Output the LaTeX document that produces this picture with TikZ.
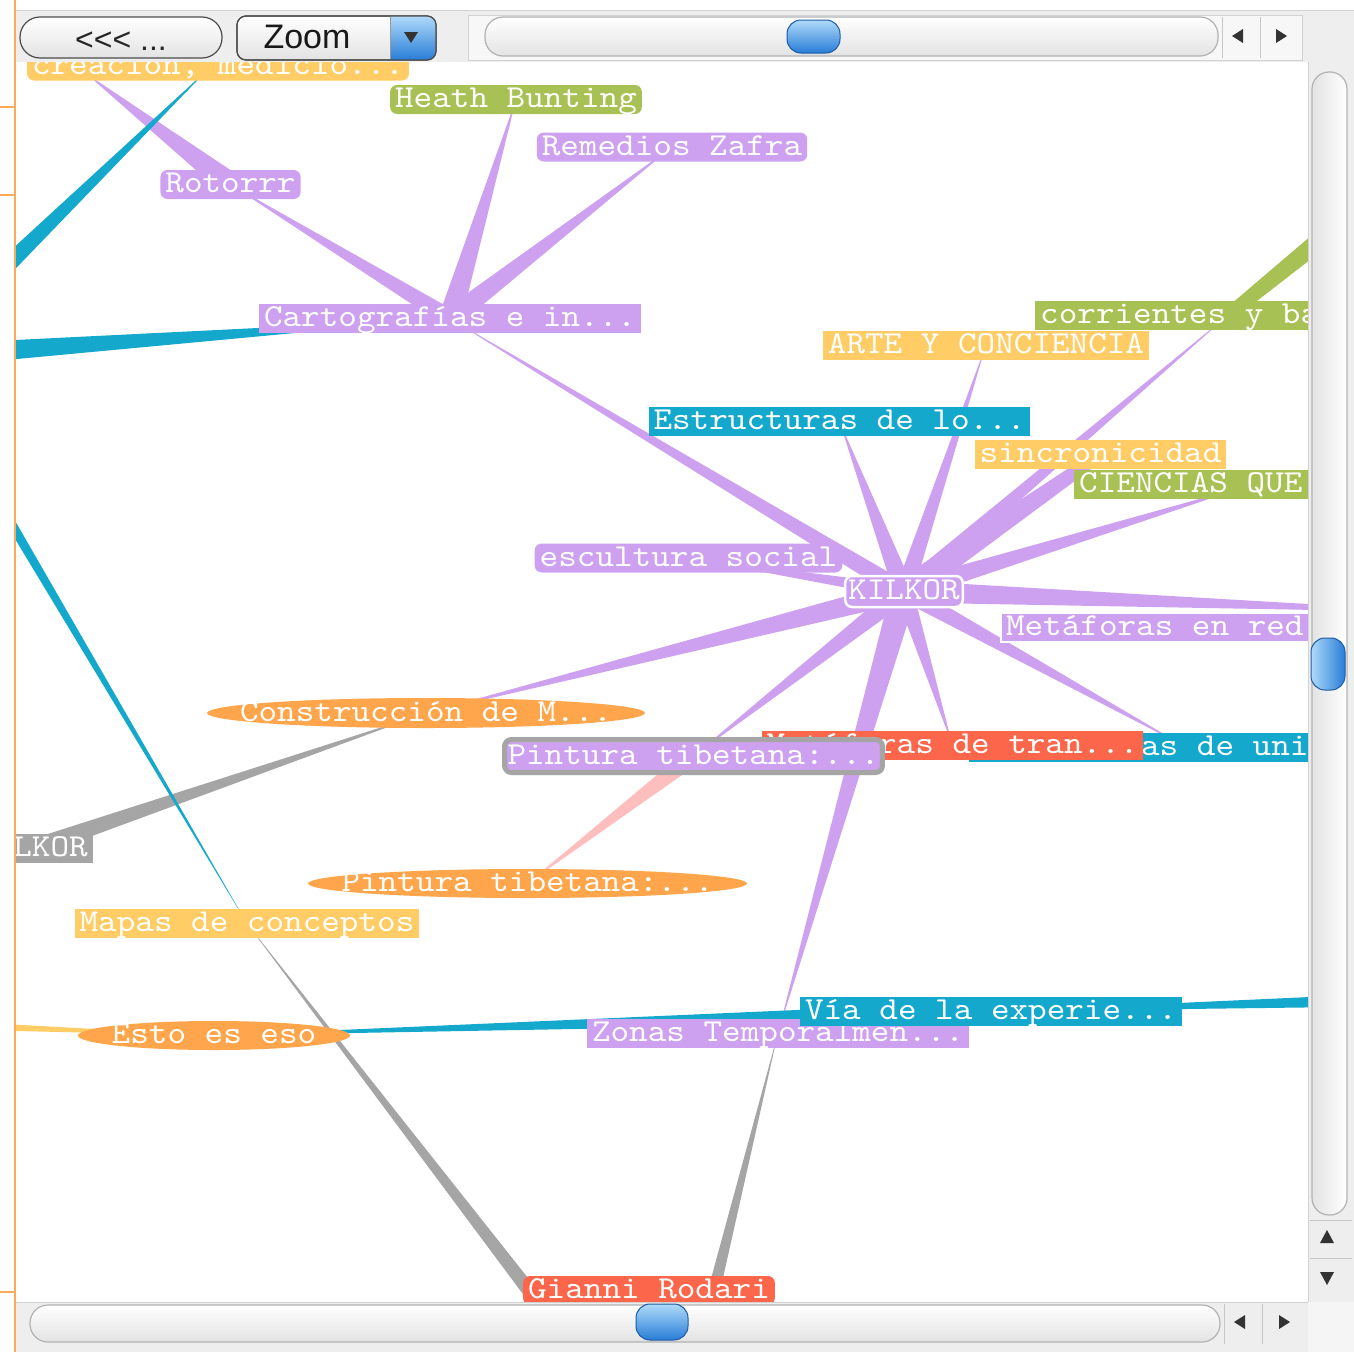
\documentclass[tikz,border=0pt]{standalone}
\usepackage{fontspec}
\newfontfamily\labelfont{lmmono10-regular}[Extension=.otf, FakeStretch=1.107]
\newfontfamily\uifont{Liberation Sans}
\usetikzlibrary{calc,shapes.geometric}
\pgfdeclarelayer{back}
\pgfdeclarelayer{links}
\pgfsetlayers{back,links,main}
\definecolor{cpurple}{RGB}{205,160,240}
\definecolor{cgreen}{RGB}{168,193,84}
\definecolor{cyellow}{RGB}{255,204,102}
\definecolor{corange}{RGB}{255,166,77}
\definecolor{cblue}{RGB}{20,168,204}
\definecolor{cred}{RGB}{252,102,74}
\definecolor{cgray}{RGB}{165,165,165}
\definecolor{cpink}{RGB}{255,190,190}
\definecolor{cline}{RGB}{255,170,90}
\definecolor{barbg}{RGB}{238,238,238}
\definecolor{thumbhi}{RGB}{175,218,250}
\definecolor{thumblo}{RGB}{40,125,215}
\definecolor{thumbedge}{RGB}{30,90,165}
\newcommand{\link}[5]{\fill[#1] ($(#2)!#4pt!90:(#3)$) -- ($(#2)!#4pt!-90:(#3)$) -- ($(#3)!#5pt!90:(#2)$) -- ($(#3)!#5pt!-90:(#2)$) -- cycle;}
\newcommand{\ctext}[1]{\makebox[0pt]{\raisebox{-8pt}[0pt][0pt]{#1}}}
\tikzset{
  lbl/.style={font=\labelfont\fontsize{32}{32}\selectfont, text=white, inner xsep=5pt, inner ysep=1pt, text height=21.5pt, text depth=5.5pt},
  sqbox/.style={lbl, fill=#1},
  rdbox/.style={lbl, fill=#1, rounded corners=7pt},
  ellbox/.style={shape=ellipse, fill=#1, inner sep=0pt, text height=0pt, text depth=0pt, font=\labelfont\fontsize{32}{32}\selectfont, text=white},
  pill/.style={top color=white, bottom color=gray!22, draw=gray!60, line width=1.2pt},
  thumbh/.style={top color=thumbhi, bottom color=thumblo, draw=thumbedge, line width=1pt},
  thumbv/.style={left color=thumbhi, right color=thumblo, draw=thumbedge, line width=1pt},
  tri/.style={fill=black!80}
}
\begin{document}
\begin{tikzpicture}[x=1pt,y=-1pt]
\useasboundingbox (0,0) rectangle (1354,1352);
\begin{pgfonlayer}{back}
\fill[white] (0,0) rectangle (1354,1352);
\end{pgfonlayer}

\begin{scope}
\clip (15,62) rectangle (1308,1302);
\node[rdbox=cyellow] (crea) at (218,66) {creación, medicio...};
\node[rdbox=cgreen] (heath) at (516,99.5) {Heath Bunting};
\node[rdbox=cpurple] (remedios) at (672,147) {Remedios Zafra};
\node[rdbox=cpurple] (rotorrr) at (230.5,184.5) {Rotorrr};
\node[sqbox=cpurple] (carto) at (450,318.5) {Cartografías e in...};
\node[sqbox=cgreen, anchor=west] (corr) at (1035,315.5) {corrientes y ba...};
\node[sqbox=cyellow] (arte) at (986,345) {ARTE Y CONCIENCIA};
\node[sqbox=cblue] (estr) at (839.5,421.5) {Estructuras de lo...};
\node[sqbox=cyellow] (sinc) at (1100.5,454.5) {sincronicidad};
\node[sqbox=cgreen, anchor=west] (ciencias) at (1074,484) {CIENCIAS QUE...};
\node[rdbox=cpurple] (escultura) at (688.5,558) {escultura social};
\node[rdbox=cpurple, draw=white, line width=2.5pt, inner xsep=3pt, inner ysep=2pt] (kilkor) at (904,591.5) {KILKOR};
\node[sqbox=cpurple, draw=white, line width=2pt, anchor=west] (metaf) at (1000,627.5) {Metáforas en red...};
\node[ellbox=corange, minimum width=438pt, minimum height=30pt] (constr) at (426,713) {\ctext{Construcción de M...}};
\node[sqbox=cblue] (uni) at (1169,747) {Estructuras de uni...};
\node[sqbox=cred] (tran) at (952.5,745.5) {Metáforas de tran...};
\node[rdbox=cpurple, draw=cgray, line width=5pt, inner xsep=3pt, inner ysep=3pt] (pintP) at (693.5,756) {Pintura tibetana:...};
\node[sqbox=cgray] (lkor) at (32,848.5) {KILKOR};
\node[ellbox=corange, minimum width=439pt, minimum height=29pt] (pintO) at (527.5,883.5) {\ctext{Pintura tibetana:...}};
\node[sqbox=cyellow] (mapas) at (247,923.5) {Mapas de conceptos};
\node[ellbox=corange, minimum width=272pt, minimum height=29pt] (esto) at (214,1035.5) {\ctext{Esto es eso}};
\node[sqbox=cpurple] (zonas) at (778,1033) {Zonas Temporalmen...};
\node[sqbox=cblue] (via) at (991,1011.5) {Vía de la experie...};
\node[rdbox=cred] (gianni) at (649,1290.5) {Gianni Rodari};
\end{scope}

\coordinate (offT1) at (92,78);
\coordinate (offT2) at (197,80);
\coordinate (offL1) at (-5,277);
\coordinate (offL2) at (-5,351);
\coordinate (offL3) at (-5,496);
\coordinate (offL4) at (-5,1027);
\coordinate (offR1) at (1454,612.5);
\coordinate (offR2) at (1420,999);
\coordinate (offR3) at (1345,220);
\coordinate (corrK) at ([xshift=20pt]corr.center);
\coordinate (cienK) at ([xshift=34.5pt]ciencias.center);
\coordinate (sincL) at ([shift={(-26,16)}]sinc.center);
\coordinate (giannL) at ([xshift=-120pt]gianni.center);
\coordinate (giannR) at ([xshift=65pt]gianni.center);
\coordinate (uniK) at ([xshift=17pt]uni.center);

\begin{pgfonlayer}{links}
\begin{scope}
\clip (15,62) rectangle (1308,1302);
% gray
\link{cgray}{constr}{lkor}{0}{9}
\link{cgray}{mapas}{giannL}{0}{7}
\link{cgray}{zonas}{giannR}{0}{6}
% purple
\link{cpurple}{offT1}{rotorrr}{0.5}{12}
\link{cpurple}{rotorrr}{carto}{0}{9}
\link{cpurple}{heath}{carto}{0}{11.5}
\link{cpurple}{remedios}{carto}{0}{10.5}
\link{cpurple}{carto}{kilkor}{0}{9}
\link{cpurple}{estr}{kilkor}{0}{10}
\link{cpurple}{arte}{kilkor}{0}{9}
\link{cpurple}{corrK}{kilkor}{0}{9}
\link{cpurple}{sinc}{kilkor}{6}{13}
\link{cpurple}{sincL}{kilkor}{0.5}{5}
\link{cpurple}{cienK}{kilkor}{0}{10}
\link{cpurple}{offR1}{kilkor}{0}{11}
\link{cpurple}{uniK}{kilkor}{0}{9}
\link{cpurple}{tran}{kilkor}{0}{9}
\link{cpurple}{zonas}{kilkor}{0}{13}
\link{cpurple}{pintP}{kilkor}{0}{10}
\link{cpurple}{constr}{kilkor}{0}{11}
\link{cpurple}{escultura}{kilkor}{0}{7}
% pink, yellow, green
\link{cpink}{pintO}{pintP}{0}{9}
\link{cyellow}{esto}{offL4}{0}{3.5}
\link{cgreen}{corrK}{offR3}{6.5}{10}
% blue
\link{cblue}{offT2}{offL1}{0.5}{9}
\link{cblue}{carto}{offL2}{0}{10}
\link{cblue}{mapas}{offL3}{0}{5}
\link{cblue}{esto}{via}{0}{10}
\link{cblue}{via}{offR2}{0}{7}
\end{scope}
\end{pgfonlayer}

% ---- window chrome ----
\fill[barbg] (15,10) rectangle (1354,62);
\draw[gray!35] (15,10) -- (1354,10);
% back button
\shade[pill, draw=black!70, rounded corners=20pt] (20,17) rectangle (222,58);
\node[font=\uifont\fontsize{32}{32}\selectfont, text=black!85] (backbtn) at (121,41) {<<< ...};
% zoom combo
\shade[pill, draw=black!70, rounded corners=9pt] (237,16) rectangle (436,60);
\begin{scope}
\clip[rounded corners=9pt] (237,16) rectangle (436,60);
\shade[top color=thumbhi, bottom color=thumblo] (390,16) rectangle (436,60);
\end{scope}
\draw[black!70, line width=1.2pt, rounded corners=9pt] (237,16) rectangle (436,60);
\draw[black!40] (390,17) -- (390,59);
\node[font=\uifont\fontsize{34}{34}\selectfont, text=black!90] (zoomtxt) at (307,37) {Zoom};
\fill[tri] (404,32) -- (418,32) -- (411,43) -- cycle;
% top horizontal scrollbar
\fill[gray!6] (468,15) rectangle (1302,60);
\draw[gray!35] (468,15) rectangle (1302,60);
\shade[pill, rounded corners=18pt] (485,17) rectangle (1218,56);
\shade[thumbh, rounded corners=14pt] (787,20) rectangle (840,53);
\draw[gray!45] (1222,17) -- (1222,58) (1260,17) -- (1260,58);
\fill[tri] (1232,36) -- (1243,29) -- (1243,43) -- cycle;
\fill[tri] (1287,36) -- (1276,29) -- (1276,43) -- cycle;
% right vertical scrollbar
\fill[barbg] (1308,62) rectangle (1354,1302);
\draw[gray!35] (1308,62) -- (1308,1302);
\shade[left color=gray!22, right color=white, draw=gray!60, line width=1.2pt, rounded corners=17pt] (1312,72) rectangle (1347,1215);
\shade[thumbv, rounded corners=14pt] (1311,638) rectangle (1345,690);
\draw[gray!45] (1310,1220) -- (1352,1220) (1310,1258) -- (1352,1258);
\fill[tri] (1320,1243) -- (1334,1243) -- (1327,1230) -- cycle;
\fill[tri] (1320,1272) -- (1334,1272) -- (1327,1285) -- cycle;
% bottom horizontal scrollbar
\fill[barbg] (15,1302) rectangle (1354,1352);
\draw[gray!35] (15,1302) -- (1308,1302);
\shade[pill, rounded corners=18pt] (30,1305) rectangle (1220,1342);
\shade[thumbh, rounded corners=14pt] (636,1304) rectangle (688,1340);
\draw[gray!45] (1224,1304) -- (1224,1344) (1262,1304) -- (1262,1344);
\fill[tri] (1234,1322) -- (1245,1315) -- (1245,1329) -- cycle;
\fill[tri] (1290,1322) -- (1279,1315) -- (1279,1329) -- cycle;
\fill[gray!8] (1308,1302) rectangle (1354,1352);
% orange left rule
\draw[cline, line width=2pt] (15,0) -- (15,1352);
\draw[cline, line width=1.5pt] (0,107) -- (15,107) (0,195) -- (15,195) (0,1292) -- (15,1292);
\end{tikzpicture}
\end{document}
